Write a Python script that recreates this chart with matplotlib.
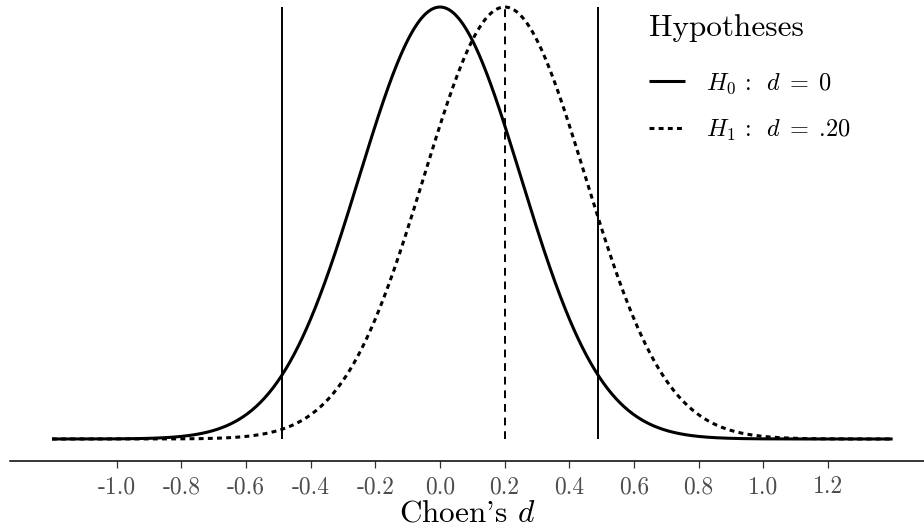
import numpy as np
import matplotlib
matplotlib.use("Agg")
import matplotlib.pyplot as plt
from matplotlib.ticker import FixedLocator

plt.rcParams["font.family"] = "cmr10"
plt.rcParams["mathtext.fontset"] = "cm"
plt.rcParams["axes.unicode_minus"] = False
plt.rcParams["axes.formatter.use_mathtext"] = True

# two hypotheses for the effect size, common standard error
means = [0.0, 0.20]
labels = [r"$H_0\,:\;\; d\;=\;0$", r"$H_1\,:\;\; d\;=\;$.20"]
styles = ["-", (0, (1.6, 1.4))]
sd = 0.25
critical = [-0.49, 0.49]
d_range = [-1.2, 1.4]
ticks = [-1.0, -0.8, -0.6, -0.4, -0.2, 0.0, 0.2, 0.4, 0.6, 0.8, 1.0, 1.2]
tick_labels = ["-1.0", "-0.8", "-0.6", "-0.4", "-0.2", "0.0",
               "0.2", "0.4", "0.6", "0.8", "1.0", "1.2"]

def density(x, mu, s):
    return np.exp(-0.5 * ((x - mu) / s) ** 2) / (s * np.sqrt(2 * np.pi))

fig = plt.figure(figsize=(9.24, 5.31), dpi=100)
ax = fig.add_axes([10 / 924, 1 - 461 / 531, 1 - 10 / 924, 461 / 531])

x = np.linspace(d_range[0], d_range[1], 800)
for mu, lab, ls in zip(means, labels, styles):
    ax.plot(x, density(x, mu, sd), color="black", lw=2.2, ls=ls, label=lab,
            solid_capstyle="butt", dash_capstyle="butt")

top = density(0, 0, sd)
ax.vlines(critical, 0, top, color="black", lw=1.4)
ax.vlines(means[1], 0, density(means[1], means[1], sd), color="black",
          lw=1.4, linestyles=[(0, (4, 3))])

ax.set_xlim(-1.33, 1.497)
ax.set_ylim(-0.0813, 1.6217)

for side in ["top", "right", "left"]:
    ax.spines[side].set_visible(False)
ax.spines["bottom"].set_linewidth(1.1)
ax.set_yticks([])
ax.xaxis.set_major_locator(FixedLocator(ticks))
ax.set_xticklabels(tick_labels)
ax.tick_params(axis="x", length=5, width=0.9, color="#333333",
               labelcolor="#4D4D4D", labelsize=17, pad=6)
ax.set_xlabel("Choen's $d$", fontsize=22.5, labelpad=1)

leg = ax.legend(title="Hypotheses", loc="upper left",
                bbox_to_anchor=(649 / 924, 1 - 14 / 531),
                bbox_transform=fig.transFigure, frameon=False,
                fontsize=17.5, title_fontsize=22.5, handlelength=1.5,
                handletextpad=0.85, labelspacing=0.9, borderpad=0,
                borderaxespad=0, alignment="left")
leg._legend_box.sep = 21

fig.savefig("out.png", dpi=100)
